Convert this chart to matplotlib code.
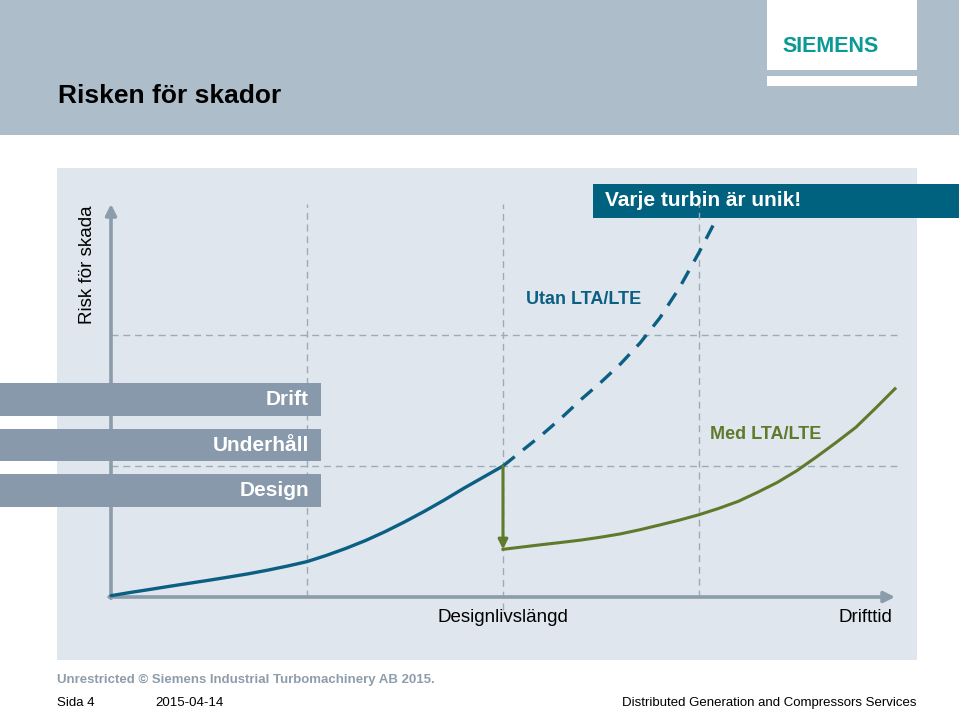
import matplotlib
matplotlib.use("Agg")
import matplotlib.pyplot as plt
from matplotlib.patches import Rectangle

plt.rcParams['font.family'] = ['Liberation Sans', 'DejaVu Sans']

# ---------------- data ----------------
title = "Risken för skador"
y_label = "Risk för skada"
x_label_mid = "Designlivslängd"
x_label_end = "Drifttid"
banner_text = "Varje turbin är unik!"
label_utan = "Utan LTA/LTE"
label_med = "Med LTA/LTE"
bar_labels = ["Drift", "Underhåll", "Design"]

# risk curve without LTA/LTE, up to design life (solid)
base_x = [0.0, 0.05, 0.1, 0.15, 0.2, 0.25, 0.3, 0.35, 0.4, 0.45, 0.5, 0.55, 0.6,
          0.65, 0.7, 0.75, 0.8, 0.85, 0.9, 0.95, 1.0]
base_y = [0.01, 0.035, 0.058, 0.082, 0.105, 0.128, 0.152, 0.177, 0.205, 0.236, 0.27,
          0.318, 0.372, 0.432, 0.5, 0.575, 0.655, 0.74, 0.83, 0.915, 1.0]
# continued risk without LTA/LTE (dashed)
utan_x = [1.0, 1.05, 1.1, 1.15, 1.2, 1.25, 1.3, 1.35, 1.4, 1.45, 1.5, 1.54]
utan_y = [1.0, 1.12, 1.24, 1.37, 1.51, 1.64, 1.78, 1.94, 2.13, 2.36, 2.63, 2.86]
# risk with LTA/LTE
med_x = [1.0, 1.05, 1.1, 1.15, 1.2, 1.25, 1.3, 1.35, 1.4, 1.45, 1.5, 1.55, 1.6,
         1.65, 1.7, 1.75, 1.8, 1.85, 1.9, 1.95, 2.0]
med_y = [0.364, 0.382, 0.40, 0.417, 0.435, 0.457, 0.482, 0.514, 0.55, 0.587, 0.628,
         0.676, 0.73, 0.80, 0.875, 0.965, 1.07, 1.18, 1.295, 1.44, 1.59]
drop_x = [1.0, 1.0]
drop_y = [1.0, 0.364]

grid_x = [0.5, 1.0, 1.5]
grid_y = [1.0, 2.0]

footer_left = "Unrestricted © Siemens Industrial Turbomachinery AB 2015."
footer_page = "Sida 4"
footer_date = "2015-04-14"
footer_right = "Distributed Generation and Compressors Services"

# ---------------- colours ----------------
HEADER = "#adbdca"
PANEL = "#dfe6ee"
BAR = "#8799aa"
AXIS = "#8b9cab"
GRID = "#9eaab6"
BLUE = "#0b5f82"
GREEN = "#5f7a2b"
BANNER = "#00627f"
TEAL = "#0a9994"

W, H = 959, 712
fig = plt.figure(figsize=(W / 100, H / 100), dpi=100)
fig.patch.set_facecolor("white")

# ---------- slide background (pixel coords) ----------
bg = fig.add_axes([0, 0, 1, 1])
bg.set_xlim(0, W)
bg.set_ylim(H, 0)
bg.axis("off")
bg.add_patch(Rectangle((0, 0), W, 135, color=HEADER, lw=0))
bg.add_patch(Rectangle((767, 0), 150, 70, color="white", lw=0))
bg.add_patch(Rectangle((767, 76), 150, 10, color="white", lw=0))
bg.text(831, 46, "SIEMENS", color=TEAL, fontsize=15.5, fontweight="bold",
        ha="center", va="center")
bg.text(58, 96, title, fontsize=19, fontweight="bold", color="black", va="center", ha="left")
bg.add_patch(Rectangle((57, 168), 860, 492, color=PANEL, lw=0))
bg.text(88, 265, y_label, rotation=90, fontsize=13.5, ha="center", va="center", color="black")
bg.add_patch(Rectangle((593, 184), W - 593, 34, color=BANNER, lw=0, zorder=5))
bg.text(605, 201, banner_text, color="white", fontsize=15, fontweight="bold",
        ha="left", va="center", zorder=6)
bg.text(57, 680, footer_left, color="#8d9dab", fontsize=9.5, fontweight="bold",
        ha="left", va="center")
bg.text(57, 703, footer_page, color="black", fontsize=9.5, ha="left", va="center")
bg.text(155, 703, footer_date, color="black", fontsize=9.5, ha="left", va="center")
bg.text(917, 703, footer_right, color="black", fontsize=9.5, ha="right", va="center")

# ---------- chart axes (data coords) ----------
x0, x1 = 111, 895
y0, y1 = 597, 204
ax = fig.add_axes([x0 / W, (H - y0) / H, (x1 - x0) / W, (y0 - y1) / H])
ax.set_xlim(0, 2.0)
ax.set_ylim(0, 3.0)
ax.axis("off")
ax.patch.set_alpha(0)

dash = (0, (5, 3.5))
for gx in grid_x:
    bottom = -0.1 if gx == 1.0 else 0
    ax.plot([gx, gx], [bottom, 3.0], color=GRID, lw=1, linestyle=dash, clip_on=False, zorder=1)
for gy in grid_y:
    ax.plot([0, 2.005], [gy, gy], color=GRID, lw=1, linestyle=dash, clip_on=False, zorder=1)

# axes with arrows
ax.annotate("", xy=(0, 3.0), xytext=(0, -0.01),
            arrowprops=dict(arrowstyle="-|>", color=AXIS, lw=2.6, mutation_scale=16,
                            shrinkA=0, shrinkB=0), zorder=2, annotation_clip=False)
ax.annotate("", xy=(2.0, 0), xytext=(-0.005, 0),
            arrowprops=dict(arrowstyle="-|>", color=AXIS, lw=2.6, mutation_scale=16,
                            shrinkA=0, shrinkB=0), zorder=2, annotation_clip=False)

# label bars (left)
bar_centers = [1.505, 1.16, 0.815]
ax.barh(bar_centers, [0.835] * 3, left=-0.3, height=0.25, color=BAR, clip_on=False, zorder=4)
for lab, yc in zip(bar_labels, bar_centers):
    ax.text(0.505, yc, lab, color="white", fontsize=15, fontweight="bold",
            ha="right", va="center", zorder=5)

# curves
ax.plot(base_x, base_y, color=BLUE, lw=2.4, solid_capstyle="round",
        solid_joinstyle="round", clip_on=False, zorder=3)
ax.plot(utan_x, utan_y, color=BLUE, lw=2.4, linestyle=(0, (4.5, 3.2)), clip_on=False, zorder=3)
ax.plot(med_x, med_y, color=GREEN, lw=2.2, solid_joinstyle="round", clip_on=False, zorder=3)
ax.annotate("", xy=(drop_x[1], drop_y[1]), xytext=(drop_x[0], drop_y[0]),
            arrowprops=dict(arrowstyle="-|>", color=GREEN, lw=2.2, mutation_scale=14,
                            shrinkA=0, shrinkB=0), zorder=3)

ax.text(1.205, 2.27, label_utan, color=BLUE, fontsize=13, fontweight="bold",
        ha="center", va="center")
ax.text(1.67, 1.24, label_med, color=GREEN, fontsize=13, fontweight="bold",
        ha="center", va="center")
ax.text(1.0, -0.16, x_label_mid, fontsize=13.5, ha="center", va="center", color="black")
ax.text(1.993, -0.16, x_label_end, fontsize=13.5, ha="right", va="center", color="black")

fig.savefig("out.png", dpi=100, facecolor="white")
